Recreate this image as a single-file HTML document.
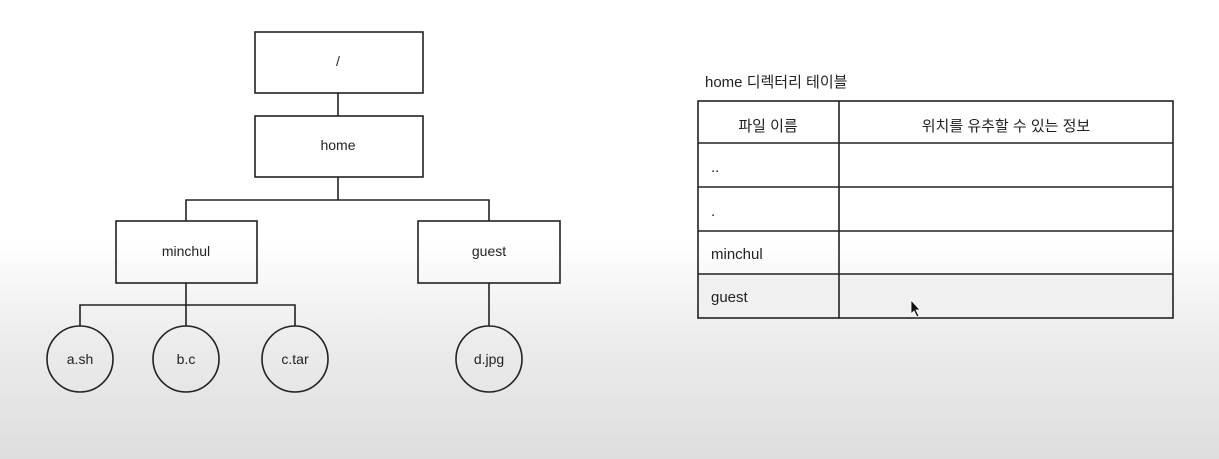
<!DOCTYPE html>
<html><head><meta charset="utf-8"><style>
body{margin:0;width:1219px;height:459px;overflow:hidden;background:linear-gradient(to bottom,#fff 0px,#fff 240px,#ececec 340px,#dedede 459px);font-family:"Liberation Sans","Noto Sans CJK KR",sans-serif;}
svg{position:absolute;left:0;top:0}
</style></head><body>
<svg width="1219" height="459" xmlns="http://www.w3.org/2000/svg" font-family="Liberation Sans, Noto Sans CJK KR, sans-serif" fill="none" stroke="#222" stroke-width="1.6">
<rect x="255" y="32" width="168" height="61"/>
<rect x="255" y="116" width="168" height="61"/>
<rect x="116" y="221" width="141" height="62"/>
<rect x="418" y="221" width="142" height="62"/>
<line x1="338" y1="93" x2="338" y2="116"/>
<line x1="338" y1="177" x2="338" y2="200"/>
<polyline points="186,221 186,200 489,200 489,221"/>
<line x1="186" y1="283" x2="186" y2="326"/>
<polyline points="80,326 80,305 295,305 295,326"/>
<line x1="489" y1="283" x2="489" y2="326"/>
<ellipse cx="80" cy="359" rx="33" ry="33"/>
<ellipse cx="186" cy="359" rx="33" ry="33"/>
<ellipse cx="295" cy="359" rx="33" ry="33"/>
<ellipse cx="489" cy="359" rx="33" ry="33"/>
<g fill="#222" stroke="none" font-size="14" text-anchor="middle">
<text x="338" y="66">/</text>
<text x="338" y="150">home</text>
<text x="186" y="256">minchul</text>
<text x="489" y="256">guest</text>
<text x="80" y="364">a.sh</text>
<text x="186" y="364">b.c</text>
<text x="295" y="364">c.tar</text>
<text x="489" y="364">d.jpg</text>
</g>
<rect x="698" y="274" width="475" height="44" fill="#f0f0f0" stroke="none"/>
<rect x="698" y="101" width="475" height="217"/>
<line x1="839" y1="101" x2="839" y2="318"/>
<line x1="698" y1="143" x2="1173" y2="143"/>
<line x1="698" y1="187" x2="1173" y2="187"/>
<line x1="698" y1="231" x2="1173" y2="231"/>
<line x1="698" y1="274" x2="1173" y2="274"/>
<g fill="#222" stroke="none" font-size="15">
<text x="705" y="87">home 디렉터리 테이블</text>
<text x="768" y="131" text-anchor="middle">파일 이름</text>
<text x="1006" y="131" text-anchor="middle">위치를 유추할 수 있는 정보</text>
<text x="711" y="172">..</text>
<text x="711" y="216">.</text>
<text x="711" y="259">minchul</text>
<text x="711" y="302">guest</text>
</g>
<path d="M911,300 L911,314 L914,311 L917,317 L919,316 L916,310 L920,310 Z" fill="#111" stroke="#fff" stroke-width="0.8"/>
</svg>
</body></html>
